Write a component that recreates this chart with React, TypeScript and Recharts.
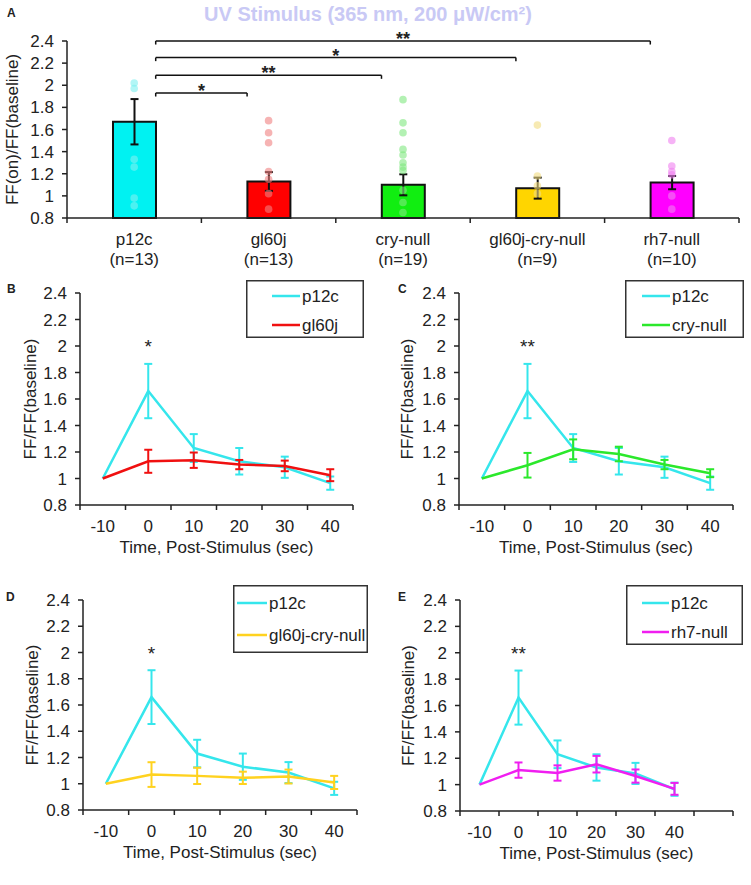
import React from 'react';
import {
  ComposedChart, LineChart, Bar, Cell, Line, Scatter, XAxis, YAxis,
  ErrorBar, ReferenceLine, ReferenceDot, Legend,
} from 'recharts';

const FONT = 'Arial, "Liberation Sans", Helvetica, sans-serif';
const INK = '#222';

// ---- A: response at stimulus onset, per genotype ----
const genotypes = ['p12c', 'gl60j', 'cry-null', 'gl60j-cry-null', 'rh7-null'];
const sampleSizes = [13, 13, 19, 9, 10];
const peakMean = [1.67, 1.13, 1.1, 1.07, 1.12];
const peakSem = [0.205, 0.085, 0.095, 0.095, 0.06];

// single flies (only the ones that can be seen)
const p12cFlies = [2.02, 1.97, 1.33, 1.26, 0.98, 0.91];
const gl60jFlies = [1.68, 1.57, 1.48, 1.22, 1.15, 1.02, 0.88];
const cryNullFlies = [1.87, 1.66, 1.57, 1.42, 1.37, 1.3, 1.26, 1.23, 1.05, 0.94, 0.85];
const gl60jCryNullFlies = [1.64, 1.18, 1.09, 1.02];
const rh7NullFlies = [1.5, 1.27, 1.22, 1.19, 1.0, 0.88];
const flies = [p12cFlies, gl60jFlies, cryNullFlies, gl60jCryNullFlies, rh7NullFlies];

const barFill = ['#00F2F2', '#FF0000', '#11EE11', '#FFD500', '#FF00FF'];
const dotFill = ['#7FF0F0', '#F08080', '#80E880', '#F2DC80', '#F080F0'];

// significance brackets, p12c against each mutant
const bracketTo = [1, 2, 3, 4];
const bracketAt = [1.93, 2.09, 2.25, 2.4];
const bracketStars = ['*', '**', '*', '**'];
const HALF_BAR = 0.16; // half bar width in category units

const yTicks = [0.8, 1, 1.2, 1.4, 1.6, 1.8, 2, 2.2, 2.4];
const bandEdges = [0, 1, 2, 3, 4, 5];

// ---- B-E: time course ----
const times = [-10, 0, 10, 20, 30, 40];
const p12cMean = [1.0, 1.66, 1.23, 1.13, 1.085, 0.965];
const p12cSem = [0, 0.205, 0.105, 0.1, 0.08, 0.05];
const gl60jMean = [1.0, 1.13, 1.138, 1.105, 1.095, 1.025];
const gl60jSem = [0, 0.087, 0.058, 0.035, 0.04, 0.045];
const cryNullMean = [1.0, 1.1, 1.22, 1.185, 1.105, 1.04];
const cryNullSem = [0, 0.093, 0.075, 0.055, 0.035, 0.03];
const gl60jCryNullMean = [1.0, 1.07, 1.06, 1.045, 1.055, 1.01];
const gl60jCryNullSem = [0, 0.094, 0.062, 0.047, 0.053, 0.05];
const rh7NullMean = [1.0, 1.11, 1.088, 1.155, 1.065, 0.968];
const rh7NullSem = [0, 0.058, 0.058, 0.063, 0.05, 0.045];

const timeBounds = [-15, -5, 5, 15, 25, 35, 45];
const timeBoundsLong = [-15, -5, 5, 15, 25, 35, 45, 55];

const CYAN = '#35E6EC';

const barData = genotypes.map((name, i) => ({ name, mean: peakMean[i], sem: peakSem[i] }));

const GenotypeTick = ({ x, y, payload }: any) => {
  const i = genotypes.indexOf(payload.value);
  return (
    <g>
      <text x={x} y={y + 27} textAnchor="middle" fontSize={17} fill={INK}>{payload.value}</text>
      <text x={x} y={y + 47} textAnchor="middle" fontSize={17} fill={INK}>(n={sampleSizes[i]})</text>
    </g>
  );
};

const TimeTick = ({ x, y, payload, bounds }: any) => {
  const v = payload.value;
  if (bounds.includes(v)) {
    return <line x1={x} x2={x} y1={y} y2={y + 5} stroke={INK} strokeWidth={1.5} />;
  }
  if (!times.includes(v)) return null;
  return <text x={x} y={y + 27} textAnchor="middle" fontSize={17} fill={INK}>{v}</text>;
};

const starShape = (label: string, size: number, weight: number, shift: number) => (p: any) => (
  <text x={p.cx} y={p.cy + shift} textAnchor="middle" fontSize={size} fontWeight={weight} fill={INK}>
    {label}
  </text>
);

const BoxLegend = ({ payload = [], lg }: any) => {
  const items = [...payload].sort((a: any, b: any) => (a.value === 'p12c' ? -1 : b.value === 'p12c' ? 1 : 0));
  return (
    <svg width={lg.w} height={lg.h} style={{ display: 'block' }}>
      <rect x={0.75} y={0.75} width={lg.w - 1.5} height={lg.h - 1.5} fill="#fff" stroke="#333" strokeWidth={1.5} />
      {items.map((it: any, i: number) => (
        <g key={it.value}>
          <line x1={lg.x0} x2={lg.x1} y1={lg.rows[i]} y2={lg.rows[i]} stroke={it.color} strokeWidth={2.5} />
          <text x={lg.x1 + 2} y={lg.rows[i]} dy="0.36em" fontSize={17} fill={INK}>{it.value}</text>
        </g>
      ))}
    </svg>
  );
};

const axisLine = { stroke: INK, strokeWidth: 1.5 };

const PeakPanel = () => (
  <ComposedChart width={751} height={285} data={barData} margin={{ top: 41, right: 12, bottom: 17, left: 0 }}>
    <XAxis
      xAxisId="cat" dataKey="name" type="category" height={50} interval={0}
      axisLine={axisLine} tickLine={false} tickSize={0} tickMargin={0} tick={<GenotypeTick />}
    />
    <XAxis xAxisId="num" type="number" dataKey="x" domain={[0, 5]} hide />
    <YAxis
      domain={[0.8, 2.4]} ticks={yTicks} interval={0} width={67}
      axisLine={axisLine} tickLine={{ stroke: INK, strokeWidth: 1.5 }} tickSize={5} tickMargin={8}
      tick={{ fontSize: 17, fill: INK }} tickFormatter={(v: number) => String(v)}
      label={{ value: 'FF(on)/FF(baseline)', angle: -90, position: 'center', dx: -22, fontSize: 17, fill: INK }}
    />
    <Bar xAxisId="cat" dataKey="mean" barSize={43} stroke="#111" strokeWidth={2} isAnimationActive={false}>
      {barData.map((d, i) => <Cell key={d.name} fill={barFill[i]} />)}
      <ErrorBar dataKey="sem" width={4} stroke="#111" strokeWidth={2} direction="y" />
    </Bar>
    {flies.map((vals, i) => (
      <Scatter
        key={genotypes[i]} xAxisId="num" dataKey="y" isAnimationActive={false}
        data={vals.map((y) => ({ x: i + 0.5, y }))}
        shape={(p: any) => <circle cx={p.cx} cy={p.cy} r={3.8} fill={dotFill[i]} fillOpacity={0.6} />}
      />
    ))}
    {bandEdges.map((e) => (
      <ReferenceLine
        key={`edge${e}`} xAxisId="num" ifOverflow="visible" stroke={INK} strokeWidth={1.5}
        segment={[{ x: e, y: 0.8 }, { x: e, y: 0.755 }]}
      />
    ))}
    {bracketTo.map((to, k) => {
      const x0 = 0.5 + HALF_BAR;
      const x1 = to + 0.5 - HALF_BAR;
      const lvl = bracketAt[k];
      return (
        <React.Fragment key={`br${k}`}>
          <ReferenceLine xAxisId="num" ifOverflow="visible" stroke="#111" strokeWidth={1.5}
            segment={[{ x: x0, y: lvl }, { x: x1, y: lvl }]} />
          <ReferenceLine xAxisId="num" ifOverflow="visible" stroke="#111" strokeWidth={1.5}
            segment={[{ x: x0, y: lvl }, { x: x0, y: lvl - 0.032 }]} />
          <ReferenceLine xAxisId="num" ifOverflow="visible" stroke="#111" strokeWidth={1.5}
            segment={[{ x: x1, y: lvl }, { x: x1, y: lvl - 0.032 }]} />
          <ReferenceDot xAxisId="num" x={(x0 + x1) / 2} y={lvl} r={0} ifOverflow="visible"
            shape={starShape(bracketStars[k], 18, 700, 4)} />
        </React.Fragment>
      );
    })}
  </ComposedChart>
);

const TimePanel = ({ w, h, margin, yWidth, bounds, mutName, mutMean, mutSem, mutColor, star, lg }: any) => {
  const data = times.map((t, i) => ({
    t, p12c: p12cMean[i], p12cSem: p12cSem[i], mut: mutMean[i], mutSem: mutSem[i],
  }));
  const ticks = [...bounds, ...times].sort((a, b) => a - b);
  return (
    <LineChart width={w} height={h} data={data} margin={margin}>
      <XAxis
        dataKey="t" type="number" domain={[bounds[0], bounds[bounds.length - 1]]} ticks={ticks} interval={0}
        height={60} axisLine={axisLine} tickLine={false} tickSize={0} tickMargin={0}
        tick={<TimeTick bounds={bounds} />}
        label={{ value: 'Time, Post-Stimulus (sec)', position: 'insideBottom', offset: 12, fontSize: 17, fill: INK }}
      />
      <YAxis
        domain={[0.8, 2.4]} ticks={yTicks} interval={0} width={yWidth}
        axisLine={axisLine} tickLine={{ stroke: INK, strokeWidth: 1.5 }} tickSize={5} tickMargin={8}
        tick={{ fontSize: 17, fill: INK }} tickFormatter={(v: number) => String(v)}
        label={{ value: 'FF/FF(baseline)', angle: -90, position: 'center', dx: -10, fontSize: 17, fill: INK }}
      />
      <Legend
        layout="vertical" align="center" verticalAlign="middle"
        wrapperStyle={{ left: lg.left, top: lg.top, width: lg.w, height: lg.h }}
        content={(props: any) => <BoxLegend payload={props.payload} lg={lg} />}
      />
      <Line dataKey="p12c" name="p12c" stroke={CYAN} strokeWidth={2.5} dot={false} isAnimationActive={false}>
        <ErrorBar dataKey="p12cSem" width={4} stroke={CYAN} strokeWidth={2} direction="y" />
      </Line>
      <Line dataKey="mut" name={mutName} stroke={mutColor} strokeWidth={2.5} dot={false} isAnimationActive={false}>
        <ErrorBar dataKey="mutSem" width={4} stroke={mutColor} strokeWidth={2} direction="y" />
      </Line>
      <ReferenceDot x={0} y={2.02} r={0} ifOverflow="visible" shape={starShape(star, 19, 400, 10)} />
    </LineChart>
  );
};

const letter = (ch: string, left: number, top: number) => (
  <div style={{ position: 'absolute', left, top, fontSize: 12, lineHeight: '12px', fontWeight: 700 }}>{ch}</div>
);

export default function App() {
  return (
    <div style={{ position: 'absolute', left: 0, top: 0, width: 751, height: 885, background: '#fff', fontFamily: FONT, color: INK, overflow: 'hidden' }}>
      <div style={{ position: 'absolute', left: 0, top: 3, width: 736, textAlign: 'center', fontSize: 20, lineHeight: '22px', fontWeight: 700, color: '#C9C9F5' }}>
        UV Stimulus (365 nm, 200 μW/cm²)
      </div>
      <div style={{ position: 'absolute', left: 0, top: 0 }}>
        <PeakPanel />
      </div>
      <div style={{ position: 'absolute', left: 0, top: 270 }}>
        <TimePanel w={375} h={300} margin={{ top: 23, right: 22, bottom: 5, left: 0 }} yWidth={80}
          bounds={timeBounds} mutName="gl60j" mutMean={gl60jMean} mutSem={gl60jSem} mutColor="#F01010" star="*"
          lg={{ left: 246, top: 10, w: 118, h: 58, x0: 26, x1: 54, rows: [16, 45] }} />
      </div>
      <div style={{ position: 'absolute', left: 375, top: 270 }}>
        <TimePanel w={376} h={300} margin={{ top: 23, right: 18, bottom: 5, left: 0 }} yWidth={84}
          bounds={timeBounds} mutName="cry-null" mutMean={cryNullMean} mutSem={cryNullSem} mutColor="#2BE82B" star="**"
          lg={{ left: 250, top: 10, w: 119, h: 58, x0: 17, x1: 45, rows: [16, 45] }} />
      </div>
      <div style={{ position: 'absolute', left: 0, top: 575 }}>
        <TimePanel w={375} h={300} margin={{ top: 25, right: 18, bottom: 5, left: 0 }} yWidth={83}
          bounds={timeBounds} mutName="gl60j-cry-null" mutMean={gl60jCryNullMean} mutSem={gl60jCryNullSem} mutColor="#FFD21F" star="*"
          lg={{ left: 233, top: 10, w: 135, h: 68, x0: 4, x1: 34, rows: [18, 50] }} />
      </div>
      <div style={{ position: 'absolute', left: 375, top: 575 }}>
        <TimePanel w={376} h={300} margin={{ top: 25, right: 18, bottom: 4, left: 0 }} yWidth={85}
          bounds={timeBoundsLong} mutName="rh7-null" mutMean={rh7NullMean} mutSem={rh7NullSem} mutColor="#F01EF0" star="**"
          lg={{ left: 251, top: 10, w: 117, h: 60, x0: 16, x1: 43, rows: [18, 47] }} />
      </div>
      {letter('A', 7, 7)}
      {letter('B', 7, 283)}
      {letter('C', 398, 283)}
      {letter('D', 6, 591)}
      {letter('E', 398, 591)}
    </div>
  );
}
